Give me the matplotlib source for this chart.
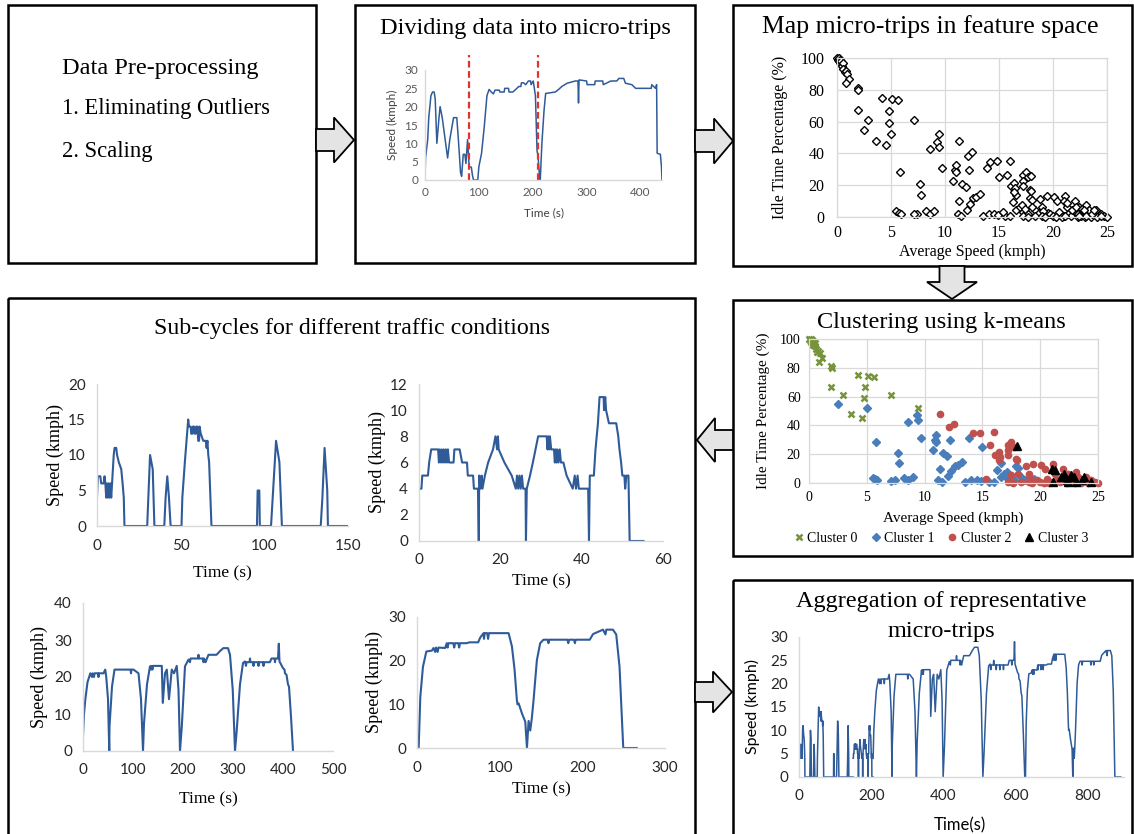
import numpy as np
import matplotlib
matplotlib.use("Agg")
import matplotlib.pyplot as plt
from matplotlib.patches import Rectangle, Polygon

W, H = 1134, 834
SERIF = 'Liberation Serif'
SANS = 'Lato'
BLUE = '#2f5b98'
GRID = '#d9d9d9'

# ---- raw micro-trip used to illustrate the splitting (time s, speed kmph)
trip = np.array([
    (0, 0), (1, 6), (5, 11), (7, 17), (11, 23), (14, 24), (17, 24), (19, 22), (22, 10),
    (26, 17), (28, 20), (32, 17), (42, 6), (46, 11), (53, 17), (59, 17), (62, 11), (66, 2),
    (68, 1), (71, 7), (74, 7), (76, 4.5), (79, 11), (82, 3.6), (86, 3.5), (88, 1.4), (90, 0),
    (98, 0), (100, 3.6), (105, 7.3), (110, 14.5), (115, 23), (119, 24.7), (123, 24),
    (127, 23.5), (130, 24.5), (138, 24.5), (139, 24), (147, 24), (148, 25), (155, 25),
    (156, 24), (163, 24), (167, 24.5), (174, 25.5), (178, 25.5), (179, 26.5), (183, 26.5),
    (187, 26), (192, 27), (196, 27), (197, 26), (201, 27), (205, 23), (208, 8), (210, 6.4),
    (213, 0), (214, 0), (217, 10), (221, 19), (224, 23.6), (242, 24), (248, 24.7),
    (254, 25.5), (264, 26.4), (279, 27), (284, 27), (285, 21), (286, 27.3), (300, 27),
    (301, 26), (315, 26), (316, 27), (330, 27), (331, 26), (345, 27), (356, 27), (360, 27.7),
    (369, 27.7), (372, 26.4), (384, 26), (391, 25), (420, 25), (421, 26), (428, 25),
    (430, 26), (431, 7.3), (437, 7), (439, 3.6), (440, 0),
])
split_times = [82, 210]

# ---- four representative sub-cycles
sub1 = np.array([
    (0, 4), (0.5, 7), (2, 7), (2.5, 6), (4, 6), (4.5, 7), (5, 6), (5.5, 4), (6, 6), (6.5, 4),
    (7, 6), (7.5, 4), (8, 6), (8.5, 4), (9, 6), (10, 10), (10.5, 11), (11.5, 11), (12, 10),
    (13, 9), (14.5, 8), (15.3, 6), (16, 4), (16.4, 0), (30, 0), (31.7, 10), (33.3, 8),
    (34.3, 0), (40.2, 0), (41, 4), (42, 7), (43, 4), (44, 0), (50.5, 0), (51, 4), (52.5, 9),
    (54.5, 15), (55, 14), (56, 14), (56.3, 13), (57, 13), (57.3, 14), (58, 14), (58.3, 13),
    (59, 13), (59.3, 14), (60, 14), (60.5, 12), (61, 12), (61.3, 14), (62, 13), (63.5, 12),
    (65, 12), (65.5, 11), (66, 12), (66.5, 10), (67, 9), (68.4, 0), (95.6, 0), (96, 5),
    (97, 5), (97.3, 0), (104, 0), (105, 4), (107, 12), (109, 9), (110.5, 0), (133.7, 0),
    (134.7, 4), (136, 11), (137.6, 5), (138, 0), (150, 0),
])
sub2 = np.array([
    (0, 4), (0.6, 4), (0.8, 5), (2.2, 5), (2.5, 6), (3, 7), (4.7, 7), (4.9, 6), (5.1, 7),
    (5.4, 6), (5.6, 7), (5.9, 6), (6.1, 7), (6.4, 6), (6.6, 7), (6.9, 6), (7.1, 7), (7.4, 6),
    (8.5, 6), (8.7, 7), (10, 7), (10.6, 6), (11.8, 6), (12, 5), (13.3, 5), (13.5, 4),
    (14.5, 4), (14.7, 0), (14.8, 5), (15.1, 4), (15.4, 5), (15.6, 4), (16.2, 5), (17, 6),
    (18.2, 7), (18.8, 8), (19.2, 7), (19.4, 8), (19.6, 7), (21, 6), (22.8, 5), (23.8, 4),
    (24.1, 5), (24.4, 4), (24.7, 5), (25, 4), (25.3, 5), (25.6, 4), (26.2, 4), (26.3, 0),
    (26.5, 4), (27.3, 5), (28, 6), (29.3, 8), (31.4, 8), (31.6, 7), (31.8, 8), (32, 7),
    (32.2, 8), (32.5, 7), (33.2, 7), (33.4, 6), (33.6, 7), (33.8, 6), (34, 7), (34.3, 6),
    (34.6, 7), (34.9, 6), (35.5, 6), (36.3, 5), (37.8, 4), (38.3, 5), (38.6, 4), (39, 5),
    (39.3, 4), (41.6, 4), (41.8, 0), (42, 5), (43, 5), (43.4, 7), (44, 9), (44.4, 11),
    (45.4, 11), (45.5, 10), (45.8, 11), (46, 10), (46.7, 9), (48.5, 9), (49, 8), (49.3, 7),
    (49.7, 6), (50, 5), (50.5, 5), (50.7, 4), (51, 5), (51.5, 5), (51.8, 0), (55.2, 0),
])
sub3 = np.array([
    (0, 4), (2, 10), (4.7, 14), (9, 18.6), (14.6, 21), (18, 20), (19, 21), (22, 20), (23, 21),
    (30, 21), (31, 20), (32, 21), (41, 21), (44.5, 22), (46.5, 20), (50, 14), (52.5, 0),
    (53, 6.6), (58, 17.4), (63, 22), (95, 22), (96, 21), (97, 22), (101, 22), (111, 21),
    (116, 14), (120, 0), (122, 7.5), (128, 18), (134, 22.9), (136, 22), (137, 23), (139, 22),
    (140, 23), (157.6, 23), (159.6, 13), (164, 21), (167.6, 22), (172, 14), (177.5, 22),
    (182, 21), (187.5, 23), (191, 16.5), (194, 0), (197.6, 6.6), (204, 22.9), (211, 24.7),
    (214, 24), (215, 25), (230, 25), (231, 26), (232, 25), (240, 25), (241, 24), (242, 25),
    (245, 24), (247, 24.7), (251, 26), (267, 26), (274, 27), (280.6, 27.8), (290, 27.8),
    (294, 26), (299.5, 16.5), (304, 0), (307, 4.8), (314, 18), (320, 23.8), (324, 24.2),
    (326, 23), (327, 24), (333, 24), (334, 25), (335, 24), (340, 24), (341, 23), (342, 24),
    (350, 24), (351, 23), (352, 24), (360, 24), (361, 23), (362, 24), (373.7, 24), (377, 25),
    (383, 25), (384, 24), (385, 25), (390, 25), (391.6, 29), (393, 24.2), (400, 22.4),
    (403, 22), (404, 21), (407, 20.6), (410, 18), (412, 17.4), (416, 9.3), (420, 0),
])
sub4 = np.array([
    (0, 0), (2, 0), (4, 11.7), (7.2, 18.6), (11.3, 22.1), (18, 22.3), (20, 22.9), (22, 22),
    (23, 23), (25, 22), (26, 23), (34, 22.9), (36, 24), (37, 23), (38, 24), (44, 24), (45, 23),
    (46, 24), (50, 24), (51, 23), (52, 24), (60, 24), (63.5, 24.2), (74, 24.2), (76.5, 25.3),
    (80.5, 26.3), (81, 25), (82, 26.3), (85, 26.3), (86, 25), (87, 26.3), (110.8, 26.3),
    (114.8, 23.3), (118, 18), (120.8, 11), (121.5, 10), (123, 10.2), (127, 7.9), (131, 6),
    (133, 0), (135, 6.2), (137, 4), (139, 7), (141, 11), (145, 20.1), (149, 24), (153, 24.8),
    (158, 24.8), (159, 24), (160, 24.8), (182, 24.8), (183, 24), (184, 24.8), (190, 24.8),
    (191, 24), (192, 24.8), (209, 24.8), (213, 26.1), (225, 27.1), (228, 26), (229, 27.1),
    (237, 27.1), (241, 26), (245, 18.6), (249.5, 0), (265.8, 0),
])

# ---- micro-trips in feature space (average speed kmph, idle time %)
cluster0 = np.array([
    (0, 100), (0.1, 99), (0.15, 98), (0.2, 100), (0.25, 97), (0.3, 99), (0.35, 96), (0.4, 98),
    (0.5, 95), (0.55, 97), (0.6, 93), (0.7, 91), (0.8, 92), (0.95, 90), (1.15, 87), (0.86, 84),
    (1.9, 81), (1.96, 80), (1.9, 67), (2.9, 61), (3.6, 48), (4.2, 75), (4.55, 45), (4.8, 59),
    (4.84, 66.5), (5.1, 74), (5.65, 73.5), (7.1, 61), (9.4, 52),
])
cluster1 = np.array([
    (2.5, 55), (5.0, 52), (5.8, 28.6), (5.5, 3.5), (5.7, 2.6), (5.9, 1.9), (7.4, 1.9), (7.1, 1.6),
    (7.7, 20.5), (7.8, 14), (8.6, 42.5), (8.2, 3.5), (8.6, 1.9), (9.0, 4), (9.3, 47), (9.45, 44),
    (9.7, 31), (10.7, 22.8), (10.9, 29.8), (11.0, 33), (11.0, 28.6), (11.3, 10), (11.2, 1.9),
    (11.5, 0.7), (11.6, 20.5), (11.9, 18.6), (12.0, 4.6), (12.2, 29.8), (12.3, 8), (12.6, 12),
    (12.9, 12.8), (13.2, 14.7), (13.5, 0.7), (13.85, 31), (14.05, 1.9), (14.5, 1.9), (15.0, 25),
    (14.9, 1.2), (15.6, 0.7), (16.0, 0.7), (16.3, 9.3), (16.6, 14), (16.6, 4.2), (16.9, 6.5),
    (17.1, 7.7), (17.2, 3), (17.7, 1.9), (17.9, 12), (18.1, 10.7), (18.3, 4.2), (18.7, 2.3),
    (19.2, 1.9), (19.5, 2.6),
])
cluster2 = np.array([
    (11.3, 48), (12.1, 38.6), (12.5, 41), (14.2, 34.4), (14.8, 35), (15.7, 26.3), (15.35, 3),
    (16.0, 35.3), (16.1, 19.3), (16.4, 21.6), (16.5, 18), (16.4, 15.8), (17.2, 26.3),
    (17.2, 22.8), (17.5, 28.6), (17.7, 25), (17.2, 19.3), (17.9, 17), (18.0, 16.3), (17.2, 0.7),
    (17.65, 0), (17.45, 5.3), (18.1, 6.5), (18.3, 0.7), (18.8, 11.6), (19.0, 6.5), (19.1, 3.7),
    (19.4, 13.5), (19.7, 1.9), (20.0, 0.7), (20.1, 12.3), (20.4, 10), (20.6, 3), (21.1, 13.5),
    (21.3, 6.5), (21.4, 1.9), (21.0, 0.7), (22.0, 10), (22.1, 4.2), (22.4, 6.5), (22.75, 1.9),
    (23.1, 7.7), (23.3, 4.2), (23.7, 1.9), (24.0, 4.2), (24.4, 1.9), (24.7, 0.7), (25.0, 0),
    (19.0, 0.7), (19.3, 0), (20.3, 0), (20.8, 0), (21.7, 0.7), (22.3, 0), (22.6, 0.7),
    (23.0, 0), (23.5, 0), (24.1, 0),
])
cluster3 = np.array([
    (18.0, 25.6), (21.0, 10), (21.3, 8.8), (21.1, 0.7), (21.8, 4.2), (22.1, 6.5), (22.35, 1.9),
    (22.7, 5.3), (22.9, 4.2), (23.1, 0.7), (23.6, 1.9), (23.8, 4.2), (24.4, 0.7), (22.4, 0.7),
])
cluster_names = ['Cluster 0', 'Cluster 1', 'Cluster 2', 'Cluster 3']


def px_axes(fig, left, top, right, bottom):
    return fig.add_axes([left / W, 1 - bottom / H, (right - left) / W, (bottom - top) / H])


def style_line_axes(ax, xlim, xstep, ylim, ystep, size, color, pad_x, pad_y, xmax_tick=None):
    ax.set_xlim(*xlim)
    ax.set_ylim(*ylim)
    xtop = xmax_tick if xmax_tick is not None else xlim[1]
    ax.set_xticks(np.arange(xlim[0], xtop + 1e-9, xstep))
    ax.set_yticks(np.arange(ylim[0], ylim[1] + 1e-9, ystep))
    for s in ['top', 'right']:
        ax.spines[s].set_visible(False)
    for s in ['left', 'bottom']:
        ax.spines[s].set_color(GRID)
        ax.spines[s].set_linewidth(1.0)
    ax.tick_params(length=0, labelsize=size, labelcolor=color)
    ax.tick_params(axis='x', pad=pad_x)
    ax.tick_params(axis='y', pad=pad_y)
    for lab in ax.get_xticklabels() + ax.get_yticklabels():
        lab.set_family(SANS)
    ax.patch.set_alpha(0)


def style_scatter_axes(ax, size, pad_x, pad_y):
    ax.set_xlim(0, 25)
    ax.set_ylim(0, 100)
    ax.set_xticks(np.arange(0, 26, 5))
    ax.set_yticks(np.arange(0, 101, 20))
    ax.grid(color=GRID, lw=0.9)
    ax.set_axisbelow(True)
    for s in ax.spines.values():
        s.set_color(GRID)
        s.set_linewidth(0.9)
    ax.tick_params(length=0, labelsize=size, labelcolor='black')
    ax.tick_params(axis='x', pad=pad_x)
    ax.tick_params(axis='y', pad=pad_y)
    for lab in ax.get_xticklabels() + ax.get_yticklabels():
        lab.set_family(SERIF)


def block_arrow(ax, direction, base, head, tip, c, hs, hh):
    if direction in ('right', 'left'):
        pts = [(base, c - hs), (head, c - hs), (head, c - hh), (tip, c),
               (head, c + hh), (head, c + hs), (base, c + hs)]
    else:
        pts = [(c - hs, base), (c - hs, head), (c - hh, head), (c, tip),
               (c + hh, head), (c + hs, head), (c + hs, base)]
    ax.add_patch(Polygon(pts, closed=True, fc='#e4e4e4', ec='black', lw=1.3,
                         joinstyle='miter', zorder=5))


fig = plt.figure(figsize=(W / 100, H / 100), dpi=100)
bg = fig.add_axes([0, 0, 1, 1])
bg.set_xlim(0, W)
bg.set_ylim(H, 0)
bg.axis('off')

# boxes
for x0, y0, x1, y1 in [(8, 5, 316, 263), (355, 5, 695, 263), (733, 5, 1132, 266),
                       (8, 298, 695, 840), (733, 300, 1132, 556), (733, 580, 1132, 840)]:
    bg.add_patch(Rectangle((x0, y0), x1 - x0, y1 - y0, fill=False, ec='black', lw=1.8, zorder=4))

block_arrow(bg, 'right', 316, 334, 354, 140, 11, 22.5)
block_arrow(bg, 'right', 695, 714, 733, 141, 11, 22.5)
block_arrow(bg, 'down', 266, 282, 299, 952, 12.5, 25)
block_arrow(bg, 'left', 733, 715, 697, 440, 10, 22)
block_arrow(bg, 'right', 695, 713, 732, 692, 10, 20.5)

# texts of the flow chart
tkw = dict(family=SERIF, color='black')
bg.text(62, 68, 'Data Pre-processing', fontsize=17.5, ha='left', va='center', **tkw)
bg.text(62, 108, '1. Eliminating Outliers', fontsize=16.3, ha='left', va='center', **tkw)
bg.text(62, 151, '2. Scaling', fontsize=16.3, ha='left', va='center', **tkw)
bg.text(525, 28, 'Dividing data into micro-trips', fontsize=17.5, ha='center', va='center', **tkw)
bg.text(930, 27, 'Map micro-trips in feature space', fontsize=18.5, ha='center', va='center', **tkw)
bg.text(352, 328, 'Sub-cycles for different traffic conditions', fontsize=17.2, ha='center', va='center', **tkw)
bg.text(941, 322, 'Clustering using k-means', fontsize=17.5, ha='center', va='center', **tkw)
bg.text(941, 602, 'Aggregation of representative', fontsize=17.5, ha='center', va='center', **tkw)
bg.text(941, 632, 'micro-trips', fontsize=17.5, ha='center', va='center', **tkw)

# ---- dividing data into micro-trips
ax = px_axes(fig, 425, 70, 662, 180)
ax.plot(trip[:, 0], trip[:, 1], color=BLUE, lw=1.1)
for t in split_times:
    ax.plot([t, t], [0, 34], color='#e0352b', lw=1.6, dashes=(3, 1.6), clip_on=False)
style_line_axes(ax, (0, 440), 100, (0, 30), 5, 8.5, '#595959', 5, 5, xmax_tick=400)
bg.text(392, 125, 'Speed (kmph)', family=SANS, fontsize=8.5, color='#404040',
        rotation=90, ha='center', va='center')
bg.text(544, 213, 'Time (s)', family=SANS, fontsize=8.5, color='#404040', ha='center', va='center')

# ---- feature space scatter
ax = px_axes(fig, 837, 58, 1107, 217)
allpts = np.vstack([cluster0, cluster1, cluster2, cluster3])
ax.plot(allpts[:, 0], allpts[:, 1], ls='none', marker='D', ms=4.2, mfc='white', mec='black',
        mew=1.0, clip_on=False)
style_scatter_axes(ax, 11.5, 6, 9)
bg.text(780, 137, 'Idle Time Percentage (%)', family=SERIF, fontsize=11.5, rotation=90,
        ha='center', va='center')
bg.text(972, 252, 'Average Speed (kmph)', family=SERIF, fontsize=11.5, ha='center', va='center')

# ---- clustering
ax = px_axes(fig, 809, 339, 1098, 483)
ax.plot(cluster0[:, 0], cluster0[:, 1], ls='none', marker='x', ms=5, mew=1.8, color='#77933c',
        label=cluster_names[0], clip_on=False)
ax.plot(cluster1[:, 0], cluster1[:, 1], ls='none', marker='D', ms=4.2, color='#4a7ebb',
        label=cluster_names[1], clip_on=False)
ax.plot(cluster2[:, 0], cluster2[:, 1], ls='none', marker='o', ms=4.5, color='#c0504d',
        label=cluster_names[2], clip_on=False)
ax.plot(cluster3[:, 0], cluster3[:, 1], ls='none', marker='^', ms=6, color='black',
        label=cluster_names[3], clip_on=False)
style_scatter_axes(ax, 10, 6, 6)
bg.text(763, 411, 'Idle Time Percentage (%)', family=SERIF, fontsize=11, rotation=90,
        ha='center', va='center')
bg.text(953, 518, 'Average Speed (kmph)', family=SERIF, fontsize=11, ha='center', va='center')
ax.legend(loc='center', bbox_to_anchor=(940 / W, 1 - 538 / H), bbox_transform=fig.transFigure,
          ncol=4, frameon=False, prop={'family': SERIF, 'size': 10}, handletextpad=0.1,
          columnspacing=0.8, handlelength=1.0, borderaxespad=0)

# ---- four sub-cycles
panels = [
    (sub1, (97, 384, 348, 526), (0, 150), 50, (0, 20), 5, (55, 455), (222, 573)),
    (sub2, (419, 384, 663, 541), (0, 60), 20, (0, 12), 2, (377, 462), (541, 581)),
    (sub3, (83, 603, 333, 751), (0, 500), 100, (0, 40), 10, (39, 677), (208, 799)),
    (sub4, (417, 617, 665, 748), (0, 300), 100, (0, 30), 10, (374, 682), (541, 789)),
]
for data, (l, t, r, b), xl, xs, yl, ys, ylab, xlab in panels:
    ax = px_axes(fig, l, t, r, b)
    ax.plot(data[:, 0], data[:, 1], color=BLUE, lw=1.5)
    style_line_axes(ax, xl, xs, yl, ys, 11, '#262626', 9, 8)
    bg.text(ylab[0], ylab[1], 'Speed (kmph)', family=SERIF, fontsize=13, rotation=90,
            ha='center', va='center')
    bg.text(xlab[0], xlab[1], 'Time (s)', family=SERIF, fontsize=12.5, ha='center', va='center')

# ---- aggregated cycle
ax = px_axes(fig, 799, 637, 1124, 777)
offset = 0.0
for data in [sub1, sub2, sub3, sub4]:
    ax.plot(data[:, 0] + offset, data[:, 1], color=BLUE, lw=1.1)
    offset += data[-1, 0]
style_line_axes(ax, (0, 900), 200, (0, 30), 5, 11, '#262626', 9, 8, xmax_tick=800)
bg.text(752, 707, 'Speed (kmph)', family=SANS, fontsize=11.5, rotation=90, ha='center', va='center')
bg.text(960, 825, 'Time(s)', family=SANS, fontsize=12, ha='center', va='center')

fig.savefig('out.png', dpi=100)
